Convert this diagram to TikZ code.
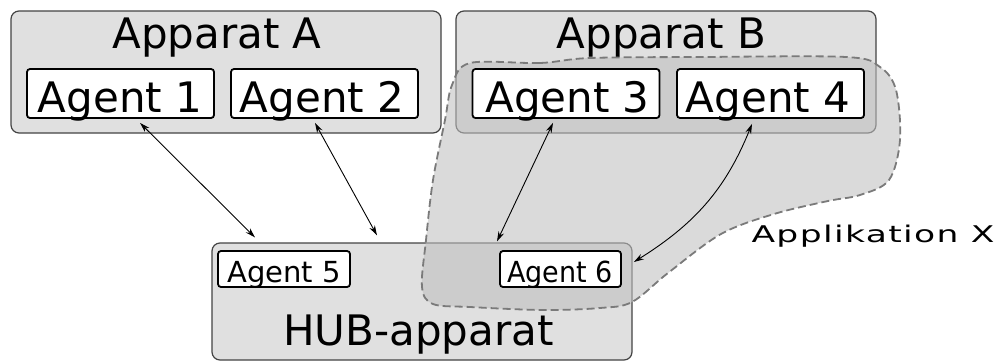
\documentclass[tikz,border=0pt]{standalone}
\usepackage{fontspec}
\setmainfont{DejaVu Sans}
\usetikzlibrary{arrows.meta,calc}
\definecolor{boxgray}{HTML}{E0E0E0}
\definecolor{edgegray}{HTML}{444444}
\definecolor{blobline}{HTML}{7A7A7A}
\tikzset{
  machine/.style={draw=edgegray, fill=boxgray, line width=1.2pt, rounded corners=8pt,
    inner sep=0pt, minimum width=#1},
  agentbox/.style={draw=black, fill=white, line width=1.8pt, rounded corners=3pt,
    inner sep=0pt},
  bigagent/.style={agentbox, minimum width=187pt, minimum height=49pt},
  smallagent/.style={agentbox, minimum height=36pt},
  bigtext/.style={anchor=base, inner sep=0pt, font=\fontsize{42}{42}\selectfont},
  smalltext/.style={anchor=base, inner sep=0pt, font=\fontsize{29}{29}\selectfont},
  link/.style={line width=0.9pt, {Stealth[length=10pt,width=6pt]}-{Stealth[length=10pt,width=6pt]}},
}
\begin{document}
\begin{tikzpicture}[x=1pt, y=-1pt]
\useasboundingbox (0,0) rectangle (998,362);

% devices
\node[machine=430pt, minimum height=122pt] (appA) at (226,72) {};
\node[machine=420pt, minimum height=122pt] (appB) at (666,72) {};
\node[machine=420pt, minimum height=117pt] (hub) at (422,301.5) {};

% application region spanning devices
\path[draw=blobline, line width=1.8pt, dash pattern=on 8pt off 4pt,
      fill=black!25, fill opacity=0.58]
  plot[smooth cycle, tension=0.55] coordinates {
    (470,63) (540,63) (590,58) (700,57) (846,57) (880,67) (896,90)
    (900,140) (889,180) (860,195) (828,201) (774,214) (721,234)
    (668,273) (632,302) (600,308) (543,310) (470,307) (433,304)
    (422,287) (426,240) (433,180) (445,120) (452,85)};

% titles
\node[bigtext] (tA) at (217,48) {Apparat A};
\node[bigtext] (tB) at (661.5,48) {Apparat B};
\node[bigtext] (tH) at (418.5,345) {HUB-apparat};
\node[anchor=base, inner sep=0pt, font=\fontsize{23}{23}\selectfont\addfontfeature{LetterSpace=4}]
  (tX) at (873,242) {\scalebox{1.5}[1]{Applikation X}};

% agents
\node[bigagent] (a1) at (120.5,93.5) {};
\node[bigtext] at (120,112) {Agent 1};
\node[bigagent] (a2) at (324.5,93.5) {};
\node[bigtext] at (322,112) {Agent 2};
\node[bigagent] (a3) at (566,93.5) {};
\node[bigtext] at (567.5,112) {Agent 3};
\node[bigagent] (a4) at (770.5,93.5) {};
\node[bigtext] at (768,112) {Agent 4};
\node[smallagent, minimum width=132pt] (a5) at (284,269) {};
\node[smalltext] at (284,282) {Agent 5};
\node[smallagent, minimum width=121pt] (a6) at (560.5,269) {};
\node[smalltext] at (560,282) {\scalebox{0.93}[1]{Agent 6}};

% links
\draw[link] ([xshift=19.5pt,yshift=-4pt]a1.south) -- ([xshift=-167pt,yshift=5pt]hub.north);
\draw[link] ([xshift=-9.5pt,yshift=-4pt]a2.south) -- ([xshift=-45pt,yshift=7pt]hub.north);
\draw[link] ([xshift=-13pt,yshift=-4pt]a3.south) -- ([xshift=75pt,yshift=1pt]hub.north);
\draw[link] ([xshift=-18.5pt,yshift=-5pt]a4.south) to[out=-112,in=32] ([xshift=12pt,yshift=7pt]a6.east);
\end{tikzpicture}
\end{document}
